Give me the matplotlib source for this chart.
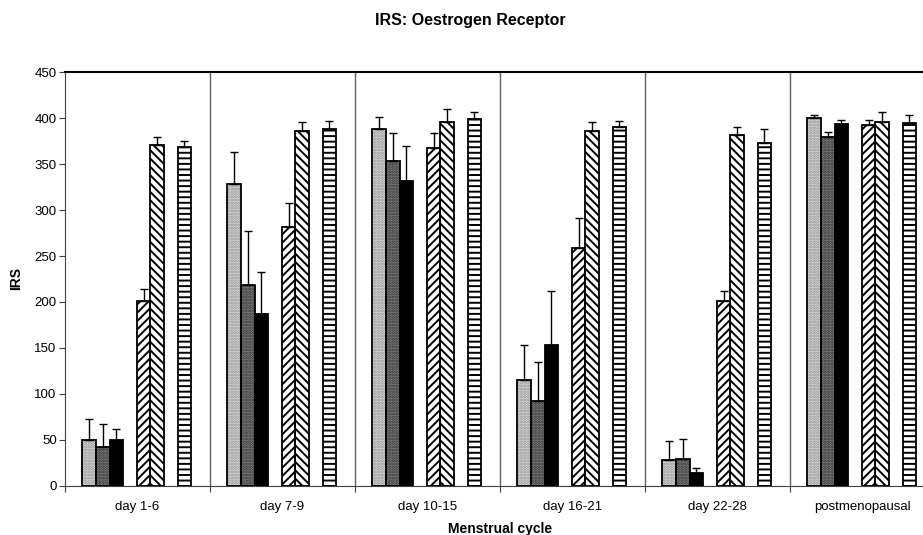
import matplotlib
matplotlib.use('Agg')
import matplotlib.pyplot as plt
import numpy as np

plt.rcParams['font.family'] = ['Liberation Sans', 'DejaVu Sans']
plt.rcParams['hatch.linewidth'] = 1.4

groups = ['day 1-6', 'day 7-9', 'day 10-15', 'day 16-21', 'day 22-28', 'postmenopausal']

light_dot = [50, 328, 388, 115, 28, 400]
light_dot_err = [23, 35, 13, 38, 21, 3]
dark_dot = [42, 218, 353, 92, 29, 379]
dark_dot_err = [25, 59, 31, 43, 22, 6]
black = [50, 187, 332, 153, 14, 393]
black_err = [12, 46, 38, 59, 6, 5]
diag_fwd = [201, 281, 367, 259, 201, 392]
diag_fwd_err = [13, 27, 17, 32, 11, 6]
diag_back = [371, 386, 396, 386, 382, 396]
diag_back_err = [8, 10, 14, 10, 8, 11]
horiz = [369, 388, 399, 390, 373, 395]
horiz_err = [6, 9, 7, 7, 15, 8]

yticks = [0, 50, 100, 150, 200, 250, 300, 350, 400, 450]

W, H = 923, 535
fig = plt.figure(figsize=(W / 100, H / 100), dpi=100)
ax = fig.add_axes([65 / W, 49 / H, 870 / W, 414 / H])

margin = 0.12
bw = 0.0937
series = [
    (light_dot, light_dot_err, 0, dict(facecolor='#e4e4e4', hatch='......', hcol='#8a8a8a')),
    (dark_dot, dark_dot_err, 1, dict(facecolor='#8c8c8c', hatch='......', hcol='#2a2a2a')),
    (black, black_err, 2, dict(facecolor='black', hatch=None, hcol='black')),
    (diag_fwd, diag_fwd_err, 4, dict(facecolor='white', hatch='////', hcol='black')),
    (diag_back, diag_back_err, 5, dict(facecolor='white', hatch='\\\\\\\\', hcol='black')),
    (horiz, horiz_err, 7, dict(facecolor='white', hatch='---', hcol='black')),
]

gx = np.arange(len(groups))
for vals, errs, slot, st in series:
    x = gx + margin + (slot + 0.5) * bw
    ax.bar(x, vals, width=bw, facecolor=st['facecolor'], hatch=st['hatch'],
           edgecolor=st['hcol'], linewidth=0, zorder=2)
    ax.bar(x, vals, width=bw, fill=False, edgecolor='black', linewidth=1.3, zorder=3)
    ax.errorbar(x, vals, yerr=[np.zeros(len(vals)), errs], fmt='none', ecolor='black',
                elinewidth=1, capsize=3.2, capthick=1, zorder=4)

for b in range(1, len(groups)):
    ax.axvline(b, color='#606060', lw=1, zorder=1)

ax.set_xlim(0, len(groups))
ax.set_ylim(0, 450)
ax.set_yticks(yticks)
ax.set_yticklabels([str(t) for t in yticks], fontsize=9.5)
ax.set_xticks(np.arange(len(groups) + 1))
ax.set_xticklabels([])
ax.set_xticks(gx + 0.5, minor=True)
ax.set_xticklabels(groups, minor=True, fontsize=9.5)
ax.tick_params(axis='x', which='major', direction='out', length=4, color='#404040')
ax.tick_params(axis='x', which='minor', length=0, pad=11)
ax.tick_params(axis='y', direction='out', length=4, color='#404040', pad=2)

ax.spines['left'].set_color('#404040')
ax.spines['bottom'].set_color('#404040')
ax.spines['top'].set_color('black')
ax.spines['top'].set_linewidth(1.5)
ax.spines['right'].set_visible(False)

ax.set_ylabel('IRS', fontsize=10, fontweight='bold', labelpad=8)
ax.set_xlabel('Menstrual cycle', fontsize=10, fontweight='bold', labelpad=6)
fig.text(470 / W, 1 - 20 / H, 'IRS: Oestrogen Receptor', ha='center', va='center',
         fontsize=11.5, fontweight='bold')

fig.savefig('out.png', dpi=100)
